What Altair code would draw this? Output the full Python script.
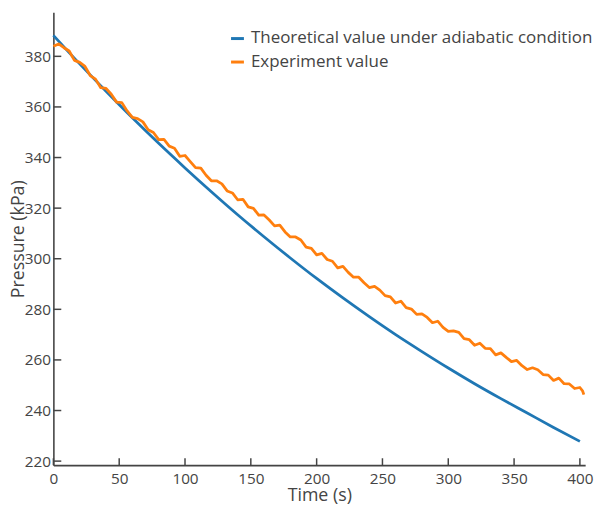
import altair as alt
import pandas as pd

# ---- data ----
series_names = ["Theoretical value under adiabatic condition", "Experiment value"]
series_colors = ["#1f77b4", "#ff7f0e"]

time_theory = [0, 20, 40, 60, 80, 100, 120, 140, 160, 180, 200,
               220, 240, 260, 280, 300, 320, 340, 360, 380, 400]
p_theory = [388.3, 377.0, 366.2, 355.7, 345.6, 335.9, 326.5, 317.4, 308.7, 300.3, 292.2,
            284.5, 277.1, 270.0, 263.3, 256.8, 250.6, 244.7, 239.0, 233.3, 227.8]

time_exp = [0, 4, 8, 12, 16, 20, 24, 28, 32, 36, 40, 44, 48, 52, 56, 60, 64, 68, 72, 76,
            80, 84, 88, 92, 96, 100, 104, 108, 112, 116, 120, 124, 128, 132, 136, 140, 144,
            148, 152, 156, 160, 164, 168, 172, 176, 180, 184, 188, 192, 196, 200, 204, 208,
            212, 216, 220, 224, 228, 232, 236, 240, 244, 248, 252, 256, 260, 264, 268, 272,
            276, 280, 284, 288, 292, 296, 300, 304, 308, 312, 316, 320, 324, 328, 332, 336,
            340, 344, 348, 352, 356, 360, 364, 368, 372, 376, 380, 384, 388, 392, 396, 400,
            402, 403]
p_exp = [384.0, 384.9, 383.4, 382.1, 378.4, 377.6, 376.0, 372.4, 371.0, 367.6, 367.3,
         365.0, 361.9, 361.7, 358.4, 355.9, 355.4, 354.1, 351.0, 349.9, 347.1, 347.2,
         344.5, 343.7, 340.5, 340.8, 338.4, 336.0, 335.8, 333.0, 330.8, 330.8, 329.6,
         326.8, 326.0, 323.3, 323.5, 320.5, 319.9, 317.2, 317.3, 315.3, 313.0, 313.3,
         310.6, 308.6, 308.6, 307.4, 304.6, 304.1, 301.5, 302.1, 299.7, 299.0, 296.4,
         297.0, 294.6, 292.7, 292.7, 290.5, 288.6, 289.1, 287.6, 285.4, 284.9, 282.5,
         283.2, 280.7, 280.1, 278.0, 278.2, 276.8, 274.7, 275.3, 272.9, 271.3, 271.5,
         270.9, 268.4, 268.0, 265.8, 266.6, 264.6, 264.5, 262.0, 262.8, 261.0, 259.3,
         259.8, 257.7, 256.2, 256.9, 256.1, 254.2, 254.0, 251.9, 252.8, 250.6, 250.5,
         248.7, 249.1, 247.8, 246.3]

x_ticks = [0, 50, 100, 150, 200, 250, 300, 350, 400]
y_ticks = [220, 240, 260, 280, 300, 320, 340, 360, 380]

# ---- tables ----
df_t = pd.DataFrame({"t": time_theory, "p": p_theory, "series": series_names[0]})
df_e = pd.DataFrame({"t": time_exp, "p": p_exp, "series": series_names[1]})
df_xt = pd.DataFrame({"t": x_ticks})
df_yt = pd.DataFrame({"p": y_ticks})

W, H = 539, 459
TEXT = "#444444"
FONT = "Open Sans"

xs = alt.Scale(domain=[0, 404], nice=False, zero=False)
ys = alt.Scale(domain=[218.4, 397.4], nice=False, zero=False)

x_enc = alt.X("t:Q", scale=xs, title="Time (s)",
              axis=alt.Axis(values=x_ticks, labelFlush=False, labelPadding=7, titlePadding=-1))
y_enc = alt.Y("p:Q", scale=ys, title="Pressure (kPa)",
              axis=alt.Axis(values=y_ticks, labelPadding=3, titlePadding=-3))

color_enc = alt.Color(
    "series:N",
    scale=alt.Scale(domain=series_names, range=series_colors),
    legend=alt.Legend(
        title=None, orient="none", legendX=178, legendY=18,
        symbolType="stroke", symbolStrokeWidth=3, symbolSize=170,
        labelFont=FONT, labelFontSize=17.2, labelColor=TEXT, labelLimit=600,
        labelOffset=5, rowPadding=5.8, padding=0,
    ),
)

theory = alt.Chart(df_t).mark_line(strokeWidth=2.8, interpolate="monotone").encode(
    x=x_enc, y=y_enc, color=color_enc)
exp = alt.Chart(df_e).mark_line(strokeWidth=2.8, strokeJoin="round").encode(
    x=x_enc, y=y_enc, color=color_enc)

xticks = alt.Chart(df_xt).mark_rule(color=TEXT, strokeWidth=1.5).encode(
    x=x_enc, y=alt.value(H), y2=alt.value(H - 7))
yticks = alt.Chart(df_yt).mark_rule(color=TEXT, strokeWidth=1.5).encode(
    y=y_enc, x=alt.value(0), x2=alt.value(8))

chart = alt.layer(xticks, yticks, theory, exp).properties(
    width=W, height=H,
    padding={"left": 46, "top": 1, "right": 12, "bottom": 37},
    autosize=alt.AutoSizeParams(type="none"),
).configure_view(stroke=None).configure_axis(
    grid=False, ticks=False, domainColor=TEXT, domainWidth=1.6,
    labelFont=FONT, labelFontSize=15.5, labelColor=TEXT,
    titleFont=FONT, titleFontSize=18, titleColor=TEXT, titleFontWeight="normal",
)

chart.save("out.html", embed_options={"renderer": "svg", "actions": False})
